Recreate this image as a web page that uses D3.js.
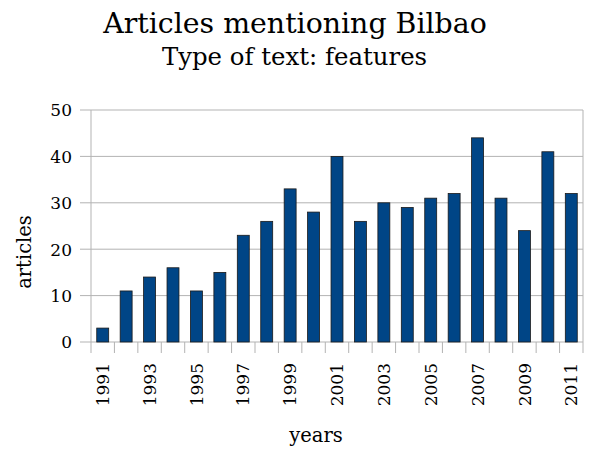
<!DOCTYPE html>
<html lang="en">
<head>
<meta charset="UTF-8">
<title>Articles mentioning Bilbao</title>
<script src="https://d3js.org/d3.v7.min.js"></script>
<style>
  body { margin: 0; background: #fff; }
  text { font-family: 'DejaVu Serif', serif; fill: #000; }
</style>
</head>
<body>
<script>
const years    = ["1991","1992","1993","1994","1995","1996","1997","1998","1999","2000",
                  "2001","2002","2003","2004","2005","2006","2007","2008","2009","2010","2011"];
const articles = [3, 11, 14, 16, 11, 15, 23, 26, 33, 28, 40, 26, 30, 29, 31, 32, 44, 31, 24, 41, 32];
const yTicks   = [0, 10, 20, 30, 40, 50];

const width = 592, height = 450;
const margin = {top: 110, right: 9, bottom: 108, left: 91};
const plotW = width - margin.left - margin.right;
const plotH = height - margin.top - margin.bottom;

const svg = d3.select("body").append("svg")
    .attr("width", width)
    .attr("height", height);

const x = d3.scaleBand().domain(years).range([0, plotW]).paddingInner(0.49).paddingOuter(0.245);
const xb = d3.scaleBand().domain(years).range([0, plotW]);
const y = d3.scaleLinear().domain([0, 50]).range([plotH, 0]);

const g = svg.append("g").attr("transform", `translate(${margin.left},${margin.top})`);

// grid lines
g.selectAll("line.grid").data(yTicks).enter().append("line")
    .attr("x1", -11).attr("x2", plotW)
    .attr("y1", d => y(d)).attr("y2", d => y(d))
    .attr("stroke", "#b3b3b3").attr("stroke-width", 1);

// frame sides
g.append("line").attr("x1", 0).attr("x2", 0).attr("y1", 0).attr("y2", plotH)
    .attr("stroke", "#b3b3b3");
g.append("line").attr("x1", plotW).attr("x2", plotW).attr("y1", 0).attr("y2", plotH)
    .attr("stroke", "#b3b3b3");

// x tick marks at band boundaries
const bounds = years.map(d => xb(d)).concat([plotW]);
g.selectAll("line.xt").data(bounds).enter().append("line")
    .attr("x1", d => d).attr("x2", d => d)
    .attr("y1", plotH).attr("y2", plotH + 11)
    .attr("stroke", "#b3b3b3");

// bars
g.selectAll("rect.bar").data(articles).enter().append("rect")
    .attr("x", (d, i) => x(years[i]))
    .attr("y", d => y(d))
    .attr("width", x.bandwidth())
    .attr("height", d => plotH - y(d))
    .attr("fill", "#004586")
    .attr("stroke", "#1a1a1a")
    .attr("stroke-width", 0.8);

// y labels
g.selectAll("text.yl").data(yTicks).enter().append("text")
    .attr("x", -19).attr("y", d => y(d))
    .attr("dy", "0.38em")
    .attr("text-anchor", "end")
    .style("font-size", "17px")
    .text(d => d);

// x labels (every other year)
g.selectAll("text.xl").data(years.filter((d, i) => i % 2 === 0)).enter().append("text")
    .attr("transform", d => `translate(${xb(d) + xb.bandwidth() / 2},${plotH + 21}) rotate(-90)`)
    .attr("dy", "0.36em")
    .attr("text-anchor", "end")
    .style("font-size", "17px")
    .text(d => d);

// axis titles
svg.append("text")
    .attr("x", 316).attr("y", 442)
    .attr("text-anchor", "middle")
    .style("font-size", "19.5px")
    .text("years");

svg.append("text")
    .attr("transform", "translate(31,252) rotate(-90)")
    .attr("text-anchor", "middle")
    .style("font-size", "19.5px")
    .text("articles");

// titles
svg.append("text")
    .attr("x", 295).attr("y", 33)
    .attr("text-anchor", "middle")
    .style("font-size", "28.4px")
    .text("Articles mentioning Bilbao");

svg.append("text")
    .attr("x", 294.5).attr("y", 65)
    .attr("text-anchor", "middle")
    .style("font-size", "24.4px")
    .text("Type of text: features");
</script>
</body>
</html>
